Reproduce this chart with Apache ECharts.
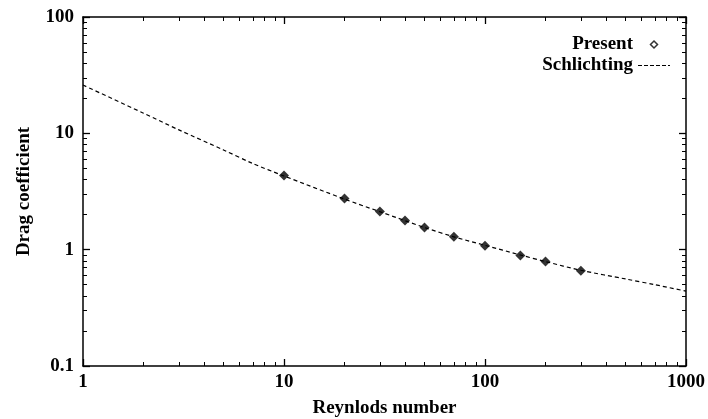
<!DOCTYPE html>
<html>
<head>
<meta charset="utf-8">
<script src="https://cdn.jsdelivr.net/npm/echarts@6/dist/echarts.min.js"></script>
<style>
    html,body{margin:0;padding:0;background:#fff;}
    #chart{width:708px;height:419px;}
</style>
</head>
<body>
<div id="chart"></div>
<script>
    // 数据
    var presentRe = [10, 20, 30, 40, 50, 70, 100, 150, 200, 300];
    var presentCd = [4.34, 2.75, 2.13, 1.78, 1.55, 1.29, 1.08, 0.89, 0.79, 0.66];

    var schlichtingRe = [1, 2, 3, 5, 7, 10, 20, 30, 50, 70, 100, 150, 200, 300, 500, 700, 1000];
    var schlichtingCd = [26, 14.9, 10.7, 7.2, 5.5, 4.3, 2.72, 2.12, 1.55, 1.29, 1.09, 0.9, 0.79, 0.665, 0.56, 0.5, 0.44];

    var xLabels = [1, 10, 100, 1000];
    var yLabels = [0.1, 1, 10, 100];
    var minorSteps = [2, 3, 4, 5, 6, 7, 8, 9];

    var font = 'Liberation Serif';
    var txt = {fontFamily: font, fontSize: 19, fontWeight: 'bold', color: '#000'};

    function zip(a, b) {
        var out = [];
        for (var i = 0; i < a.length; i++) {
            out.push([a[i], b[i]]);
        }
        return out;
    }

    // 每个十倍程里的第 k 个小刻度
    function stepTicks(decades, k) {
        return decades.slice(0, -1).map(function (d) { return +(d * k).toPrecision(3); });
    }

    function fmt(v) {
        return String(+v.toPrecision(3));
    }

    var gridRect = {left: 83, right: 22, top: 17, bottom: 53, outerBoundsMode: 'none'};

    // grid 0 : 轴线 + 标签 + 主刻度, 其余 grid : 小刻度
    // 注意 : axisLabel.customValues 会盖掉 axisTick.customValues, 所以只在 tick 上设
    function xAxis(grid, pos, ticks) {
        var main = grid === 0;
        var showLabel = main && pos === 'bottom';
        return {
            gridIndex: grid, type: 'log', logBase: 10, min: 1, max: 1000, position: pos,
            name: showLabel ? 'Reynlods number' : '',
            nameLocation: 'middle', nameGap: 33, nameTextStyle: txt,
            axisLine: {show: main, onZero: false, lineStyle: {color: '#000', width: 1.5}},
            axisTick: {show: true, inside: true, length: main ? 7 : 4, customValues: ticks,
                lineStyle: {color: '#000', width: main ? 1.3 : 1}},
            axisLabel: {show: showLabel, margin: 7, formatter: fmt,
                fontFamily: font, fontSize: 19, fontWeight: 'bold', color: '#000'},
            splitLine: {show: false}
        };
    }

    function yAxis(grid, pos, ticks) {
        var main = grid === 0;
        var showLabel = main && pos === 'left';
        return {
            gridIndex: grid, type: 'log', logBase: 10, min: 0.1, max: 100, position: pos,
            name: showLabel ? 'Drag coefficient' : '',
            nameLocation: 'middle', nameGap: 49, nameRotate: 90, nameTextStyle: txt,
            axisLine: {show: main, onZero: false, lineStyle: {color: '#000', width: 1.5}},
            axisTick: {show: true, inside: true, length: main ? 7 : 4, customValues: ticks,
                lineStyle: {color: '#000', width: main ? 1.3 : 1}},
            axisLabel: {show: showLabel, margin: 9, formatter: fmt,
                fontFamily: font, fontSize: 19, fontWeight: 'bold', color: '#000'},
            splitLine: {show: false}
        };
    }

    var grids = [gridRect];
    var xAxes = [xAxis(0, 'bottom', xLabels), xAxis(0, 'top', xLabels)];
    var yAxes = [yAxis(0, 'left', yLabels), yAxis(0, 'right', yLabels)];

    minorSteps.forEach(function (k, i) {
        var g = i + 1;
        grids.push(gridRect);
        xAxes.push(xAxis(g, 'bottom', stepTicks(xLabels, k)), xAxis(g, 'top', stepTicks(xLabels, k)));
        yAxes.push(yAxis(g, 'left', stepTicks(yLabels, k)), yAxis(g, 'right', stepTicks(yLabels, k)));
    });

    var option = {
        animation: false,
        backgroundColor: '#fff',
        grid: grids,
        legend: {
            orient: 'vertical', right: 38, top: 35, align: 'right', padding: 0,
            itemGap: 2, itemWidth: 32, itemHeight: 7,
            textStyle: txt,
            data: [
                {name: 'Present', icon: 'path://M5,0L10,5L5,10L0,5Z',
                    itemStyle: {color: '#fff', borderColor: '#000', borderWidth: 1.5}},
                {name: 'Schlichting', icon: 'path://M0,0h4v1h-4zM6,0h4v1h-4zM12,0h4v1h-4zM18,0h4v1h-4zM24,0h4v1h-4zM30,0h2v1h-2z',
                    itemStyle: {color: '#000'}}
            ]
        },
        xAxis: xAxes,
        yAxis: yAxes,
        series: [
            {
                name: 'Schlichting', type: 'line', smooth: 0.3,
                xAxisIndex: 0, yAxisIndex: 0,
                symbol: 'none',
                lineStyle: {color: '#000', width: 1.2, type: [4, 3]},
                itemStyle: {color: '#000'},
                data: zip(schlichtingRe, schlichtingCd),
                z: 2
            },
            {
                name: 'Present', type: 'scatter',
                xAxisIndex: 0, yAxisIndex: 0,
                symbol: 'diamond', symbolSize: 10,
                itemStyle: {color: '#000'},
                data: zip(presentRe, presentCd),
                z: 3
            }
        ]
    };

    var myChart = echarts.init(document.getElementById('chart'));
    myChart.setOption(option);
</script>
</body>
</html>
